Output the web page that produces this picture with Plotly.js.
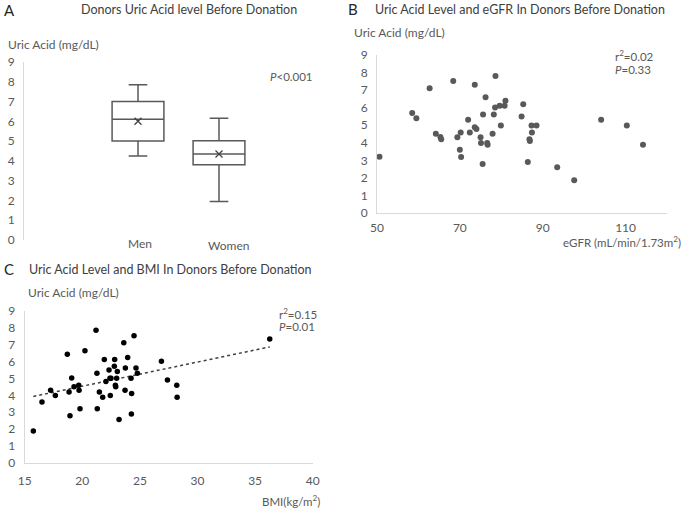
<!DOCTYPE html>
<html><head><meta charset="utf-8">
<script src="https://cdn.plot.ly/plotly-3.0.1.min.js"></script>
<style>html,body{margin:0;padding:0;background:#fff}#chart{width:685px;height:508px}</style>
</head><body><div id="chart"></div>
<script>
// Panel A: box plot summary
var groups = ["Men", "Women"];
var boxQ1 = [5.0, 3.8];
var boxMedian = [6.1, 4.35];
var boxQ3 = [7.0, 5.02];
var boxLower = [4.25, 1.95];
var boxUpper = [7.85, 6.15];
var boxMean = [6.0, 4.35];

// Panel B: eGFR vs uric acid
var egfr = [50.6,58.5,59.5,62.7,64.2,65.3,65.5,68.4,69.4,70.2,70.0,70.3,72.0,72.4,73.6,73.6,74.0,75.0,75.1,75.5,75.6,76.2,76.6,76.7,77.9,78.2,78.5,78.6,79.6,79.9,80.8,81.0,84.9,85.3,86.4,86.8,86.9,87.3,87.4,88.5,93.5,97.6,104.1,110.3,114.2];
var uaB = [3.2,5.7,5.4,7.1,4.52,4.33,4.2,7.52,4.31,4.58,3.6,3.19,5.31,4.58,7.31,4.89,4.79,4.31,3.99,2.79,5.61,6.6,3.99,3.89,4.52,5.61,6.01,7.8,6.11,4.98,6.11,6.39,5.5,6.2,2.9,4.2,4.1,4.98,4.58,4.98,2.6,1.87,5.31,4.98,3.89];

// Panel C: BMI vs uric acid
var bmi = [15.75,16.5,17.25,17.66,18.7,18.85,18.93,19.08,19.28,19.69,19.72,19.8,20.23,21.19,21.27,21.3,21.48,21.77,21.91,22.05,22.32,22.4,22.43,22.49,22.78,22.81,22.87,22.9,22.98,23.04,23.19,23.6,23.71,23.74,23.94,24.23,24.26,24.28,24.49,24.66,24.78,26.87,27.39,28.2,28.23,36.27];
var uaC = [1.89,3.6,4.3,3.99,6.42,4.2,2.79,5.03,4.5,4.6,4.3,3.2,6.64,7.84,5.3,3.2,4.2,3.89,6.11,4.81,5.5,5.01,3.99,5.01,5.72,6.11,4.6,4.5,5.01,5.4,2.57,7.11,4.3,5.62,6.23,5.01,2.89,4.1,7.52,5.62,5.3,6.01,4.91,4.6,3.89,7.33];

var statsB = ["r<sup>2</sup>=0.02", "<i>P</i>=0.33"];
var statsC = ["r<sup>2</sup>=0.15", "<i>P</i>=0.01"];
var statsA = "<i>P</i><0.001";

// least squares trend for panel C
function fit(xs, ys){
  var n=xs.length,sx=0,sy=0,sxx=0,sxy=0;
  for(var i=0;i<n;i++){sx+=xs[i];sy+=ys[i];sxx+=xs[i]*xs[i];sxy+=xs[i]*ys[i];}
  var b=(n*sxy-sx*sy)/(n*sxx-sx*sx), a=(sy-b*sx)/n;
  return [a,b];
}
var ab = fit(bmi, uaC);
var tx = [Math.min.apply(null,bmi), Math.max.apply(null,bmi)];
var ty = tx.map(function(v){return ab[0]+ab[1]*v;});

var W=685, H=508;
function px(x){return x/W;}
function py(y){return 1-y/H;}

var FONT = "Lato, 'Open Sans', sans-serif";
var TXT = "#595959";
var AX = "#d9d9d9";

var traces = [
  {type:"box", x:groups, q1:boxQ1, median:boxMedian, q3:boxQ3, lowerfence:boxLower, upperfence:boxUpper,
   xaxis:"x", yaxis:"y", fillcolor:"#ffffff", line:{color:"#595959", width:1.5}, whiskerwidth:0.36,
   boxpoints:false, showlegend:false, hoverinfo:"skip"},
  {type:"scatter", mode:"markers", x:groups, y:boxMean, xaxis:"x", yaxis:"y",
   marker:{symbol:"x-thin-open", size:7, color:"#404040", line:{width:1.3, color:"#404040"}}, showlegend:false},
  {type:"scatter", mode:"markers", x:egfr, y:uaB, xaxis:"x2", yaxis:"y2",
   marker:{size:6, color:"#595959"}, showlegend:false},
  {type:"scatter", mode:"lines", x:tx, y:ty, xaxis:"x3", yaxis:"y3",
   line:{color:"#404040", width:1.5, dash:"dot"}, showlegend:false},
  {type:"scatter", mode:"markers", x:bmi, y:uaC, xaxis:"x3", yaxis:"y3",
   marker:{size:5.5, color:"#000000"}, showlegend:false}
];

var tickFont = {family:FONT, size:12, color:TXT};
function yax(domTop, domBot, extra){
  var o = {domain:[py(domBot), py(domTop)], range:[0,9], dtick:1, tick0:0, showgrid:false, zeroline:false,
    showline:true, linecolor:AX, linewidth:1, ticks:"", tickfont:tickFont, ticklabelstandoff:6, fixedrange:true};
  for (var k in extra) o[k]=extra[k];
  return o;
}

var ann = [];
function A(x,y,text,size,color,xanchor,extra){
  var o={xref:"paper",yref:"paper",x:px(x),y:py(y),text:text,showarrow:false,xanchor:xanchor||"center",yanchor:"middle",
    font:{family:FONT,size:size,color:color||TXT}};
  for (var k in extra) o[k]=extra[k];
  ann.push(o);
}
// panel letters and titles
A(2,10,"A",15,"#262626","left");
A(189,10,"Donors Uric Acid level Before Donation",12.5,"#404040");
A(346,9,"B",15,"#262626","left");
A(520,10,"Uric Acid Level and eGFR In Donors Before Donation",12.5,"#404040");
A(2,269,"C",15,"#262626","left");
A(170,269,"Uric Acid Level and BMI In Donors Before Donation",12.5,"#404040");
// y titles
A(6,45,"Uric Acid (mg/dL)",12,TXT,"left");
A(352,32,"Uric Acid (mg/dL)",12,TXT,"left");
A(26,292,"Uric Acid (mg/dL)",12,TXT,"left");
// x titles
A(683,241,"eGFR (mL/min/1.73m<sup>2</sup>)",11.5,TXT,"right");
A(322,500,"BMI(kg/m<sup>2</sup>)",11.5,TXT,"right");
// stats
A(268,77,statsA,11.5,TXT,"left");
A(613,55,statsB[0],11.5,TXT,"left");
A(613,70,statsB[1],11.5,TXT,"left");
A(277,313,statsC[0],11.5,TXT,"left");
A(277,326,statsC[1],11.5,TXT,"left");
// category labels in A
ann.push({xref:"x",yref:"paper",x:groups[0],y:py(243),text:groups[0],showarrow:false,xanchor:"center",yanchor:"middle",xshift:2,font:{family:FONT,size:12,color:TXT}});
ann.push({xref:"x",yref:"paper",x:groups[1],y:py(245),text:groups[1],showarrow:false,xanchor:"center",yanchor:"middle",xshift:9,font:{family:FONT,size:12,color:TXT}});

var layout = {
  width:W, height:H, margin:{l:0,r:0,t:0,b:0}, paper_bgcolor:"#fff", plot_bgcolor:"rgba(0,0,0,0)",
  font:{family:FONT, color:TXT}, showlegend:false, boxgap:0.086,
  xaxis:{domain:[px(97.5), px(259.5)], range:[-0.5,1.5], type:"category", showticklabels:false, showline:false,
    showgrid:false, zeroline:false, ticks:"", anchor:"y", fixedrange:true},
  yaxis:yax(62,240,{anchor:"free", position:px(23)}),
  xaxis2:{domain:[px(377), px(667)], range:[50,120], dtick:20, tick0:50, showgrid:false, zeroline:false,
    showline:true, linecolor:AX, ticks:"", tickfont:tickFont, anchor:"y2", ticklabelstandoff:4, fixedrange:true},
  yaxis2:yax(55,213,{anchor:"x2"}),
  xaxis3:{domain:[px(24.7), px(312.7)], range:[15,40], dtick:5, tick0:15, showgrid:false, zeroline:false,
    showline:true, linecolor:AX, ticks:"", tickfont:tickFont, anchor:"y3", ticklabelstandoff:7, fixedrange:true},
  yaxis3:yax(310.7,463,{anchor:"x3"}),
  annotations:ann
};
Plotly.newPlot("chart", traces, layout, {displayModeBar:false, staticPlot:true});
</script>
</body></html>
